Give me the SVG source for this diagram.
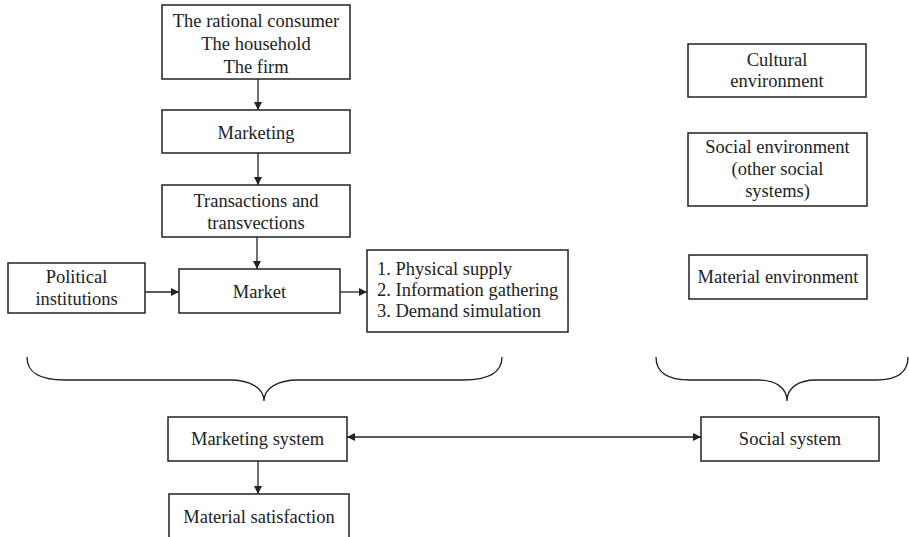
<svg xmlns="http://www.w3.org/2000/svg" width="909" height="537" viewBox="0 0 909 537">
<style>
rect{fill:#fff;stroke:#222;stroke-width:1.5}
text{font-family:'Liberation Serif','DejaVu Serif',serif;font-size:18.5px;fill:#222;text-anchor:middle}
.l{text-anchor:start}
.c{fill:none;stroke:#222;stroke-width:1.3}
</style>
<defs>
<marker id="a" viewBox="0 0 10 10" refX="10" refY="5" markerWidth="8" markerHeight="8" markerUnits="userSpaceOnUse" orient="auto-start-reverse">
<path d="M0,0L10,5L0,10z" fill="#222"/>
</marker>
</defs>
<g font-family="Liberation Serif, DejaVu Serif, serif">
<g id="n1"><rect x="162" y="5" width="188" height="74"/><text x="256" y="27">The rational consumer</text><text x="256" y="50">The household</text><text x="256" y="73">The firm</text></g>
<g id="n2"><rect x="162" y="110" width="188" height="43"/><text x="256" y="139">Marketing</text></g>
<g id="n3"><rect x="162" y="185" width="188" height="52"/><text x="256" y="207">Transactions and</text><text x="256" y="229">transvections</text></g>
<g id="n4"><rect x="8" y="263" width="137" height="50"/><text x="76.5" y="283">Political</text><text x="76.5" y="305">institutions</text></g>
<g id="n5"><rect x="179" y="269" width="161" height="44"/><text x="259.5" y="298">Market</text></g>
<g id="n6"><rect x="367" y="250" width="201" height="82"/><text class="l" x="377" y="275">1. Physical supply</text><text class="l" x="377" y="296">2. Information gathering</text><text class="l" x="377" y="317">3. Demand simulation</text></g>
<g id="n7"><rect x="688" y="44" width="178" height="53"/><text x="777" y="66">Cultural</text><text x="777" y="87">environment</text></g>
<g id="n8"><rect x="688" y="133" width="179" height="73"/><text x="777.5" y="153">Social environment</text><text x="777.5" y="175">(other social</text><text x="777.5" y="197">systems)</text></g>
<g id="n9"><rect x="689" y="255" width="178" height="44"/><text x="778" y="283">Material environment</text></g>
<g id="n10"><rect x="168" y="417" width="179" height="44"/><text x="257.5" y="445">Marketing system</text></g>
<g id="n11"><rect x="701" y="417" width="178" height="44"/><text x="790" y="445">Social system</text></g>
<g id="n12"><rect x="169" y="494" width="180" height="50"/><text x="259" y="523">Material satisfaction</text></g>
</g>
<g id="braces">
<path class="c" d="M27,357 C27,372 38,380 65,380 L230,380 C250,380 264,388 264,401 C264,388 278,380 298,380 L463,380 C490,380 502,372 502,357"/>
<path class="c" d="M656,357 C656,372 666,380 690,380 L758,380 C776,380 787,388 787,401 C787,388 798,380 816,380 L876,380 C898,380 908,372 908,357"/>
</g>
<g id="connectors">
<path class="c" d="M258,79V110" marker-end="url(#a)"/>
<path class="c" d="M258,153V185" marker-end="url(#a)"/>
<path class="c" d="M257,237V269" marker-end="url(#a)"/>
<path class="c" d="M145,292H179" marker-end="url(#a)"/>
<path class="c" d="M340,292H367" marker-end="url(#a)"/>
<path class="c" d="M347,437H701" marker-start="url(#a)" marker-end="url(#a)"/>
<path class="c" d="M258,461V494" marker-end="url(#a)"/>
</g>
</svg>
